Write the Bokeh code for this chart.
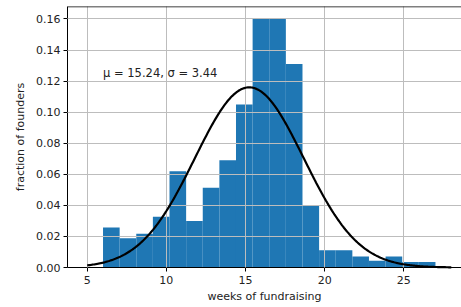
import numpy as np
from bokeh.plotting import figure
from bokeh.models import Range1d, FixedTicker, PrintfTickFormatter, Label, Span
from bokeh.embed import file_html
from bokeh.resources import INLINE

# histogram data (density), 20 bins from 6 to 27 weeks
bin_min = 6.0
bin_max = 27.0
n_bins = 20
heights = [0.0257, 0.0188, 0.0218, 0.0327, 0.0620, 0.0300, 0.0513, 0.0690,
           0.1050, 0.1600, 0.1600, 0.1310, 0.0402, 0.0111, 0.0111, 0.0071,
           0.0043, 0.0071, 0.0036, 0.0036]
mu = 15.24
sigma = 3.44
x_ticks = [5, 10, 15, 20, 25]
y_ticks = [0.00, 0.02, 0.04, 0.06, 0.08, 0.10, 0.12, 0.14, 0.16]

edges = np.linspace(bin_min, bin_max, n_bins + 1)
xs = np.linspace(bin_min - 1, bin_max + 1, 300)
pdf = np.exp(-0.5 * ((xs - mu) / sigma) ** 2) / (sigma * np.sqrt(2 * np.pi))

FONT = "DejaVu Sans"
TXT = "#222222"

p = figure(width=461, height=307, output_backend="svg", toolbar_location=None,
           x_range=Range1d(3.756, 28.645), y_range=Range1d(0, 0.168),
           min_border_left=67, min_border_right=0, min_border_top=6,
           min_border_bottom=40)
p.outline_line_color = None
p.background_fill_color = "white"
p.border_fill_color = "white"

p.quad(left=edges[:-1], right=edges[1:], bottom=0, top=heights,
       fill_color="#1f77b4", line_color=None)
curve = p.line(xs, pdf, line_color="black", line_width=2.2)
curve.level = "overlay"

for g in (p.xgrid, p.ygrid):
    g.grid_line_color = "#bdbdbd"
    g.grid_line_width = 1
    g.level = "annotation"
p.xgrid.ticker = FixedTicker(ticks=x_ticks)
p.ygrid.ticker = FixedTicker(ticks=y_ticks)

for ax in (p.xaxis[0], p.yaxis[0]):
    ax.axis_line_color = "black"
    ax.axis_line_width = 1
    ax.major_tick_line_color = "black"
    ax.major_tick_in = 0
    ax.major_tick_out = 4
    ax.minor_tick_line_color = None
    ax.major_label_text_font = FONT
    ax.major_label_text_font_size = "11px"
    ax.major_label_text_color = TXT
    ax.axis_label_text_font = FONT
    ax.axis_label_text_font_size = "11px"
    ax.axis_label_text_font_style = "normal"
    ax.axis_label_text_color = TXT

p.xaxis.ticker = FixedTicker(ticks=x_ticks)
p.yaxis.ticker = FixedTicker(ticks=y_ticks)
p.yaxis.formatter = PrintfTickFormatter(format="%.2f")
p.xaxis.axis_label = "weeks of fundraising"
p.yaxis.axis_label = "fraction of founders"
p.xaxis.major_label_standoff = 4
p.xaxis.axis_label_standoff = 3
p.yaxis.major_label_standoff = 3
p.yaxis.axis_label_standoff = 6

top = Span(location=0.168, dimension="width", line_color="black", line_width=1.5)
p.add_layout(top)

lab = Label(x=6.0, y=0.125, text="\u03bc = 15.24,  \u03c3 = 3.44",
            text_font=FONT, text_font_size="11.5px", text_color=TXT,
            text_baseline="alphabetic", text_align="left")
p.add_layout(lab)

open("out.html", "w").write(file_html(p, INLINE))
